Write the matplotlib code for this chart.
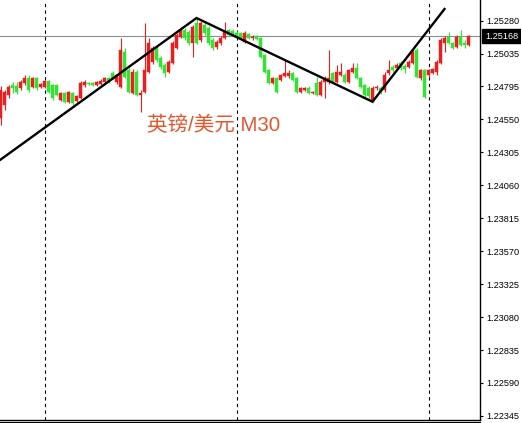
import numpy as np
import matplotlib
matplotlib.use("Agg")
import matplotlib.pyplot as plt
import matplotlib.transforms as mtrans
from matplotlib.lines import Line2D

plt.rcParams['font.family'] = ['Liberation Sans', 'Noto Sans CJK SC', 'DejaVu Sans']

# ── GBP/USD M30 candles ──────────────────────────────────────────────────────
opens = [
    1.24559, 1.24656, 1.24730, 1.24804, 1.24797, 1.24782, 1.24819, 1.24856, 1.24790, 1.24856,
    1.24790, 1.24790, 1.24834, 1.24804, 1.24804, 1.24693, 1.24745, 1.24678, 1.24745, 1.24686,
    1.24708, 1.24804, 1.24819, 1.24819, 1.24804, 1.24812, 1.24827, 1.24856, 1.24894, 1.24827,
    1.24790, 1.25050, 1.24916, 1.24745, 1.24901, 1.24730, 1.24752, 1.24901, 1.24975, 1.25087,
    1.25005, 1.24953, 1.24901, 1.24968, 1.25079, 1.25161, 1.25213, 1.25198, 1.25117, 1.25265,
    1.25139, 1.25250, 1.25228, 1.25139, 1.25087, 1.25117, 1.25154, 1.25213, 1.25206, 1.25191,
    1.25191, 1.25124, 1.25183, 1.25154, 1.25168, 1.25154, 1.25027, 1.24916, 1.24819, 1.24856,
    1.24842, 1.24871, 1.24871, 1.24894, 1.24856, 1.24752, 1.24767, 1.24782, 1.24745, 1.24819,
    1.24730, 1.24827, 1.24827, 1.24894, 1.24827, 1.24879, 1.24879, 1.24827, 1.24901, 1.24931,
    1.24856, 1.24804, 1.24782, 1.24693, 1.24782, 1.24782, 1.24767, 1.24894, 1.24938, 1.24931,
    1.24968, 1.24946, 1.24938, 1.24968, 1.25065, 1.24856, 1.24916, 1.24879, 1.24894, 1.24901,
    1.24968, 1.25117, 1.25161, 1.25117, 1.25087, 1.25161, 1.25117, 1.25102,
]
highs = [
    1.24797, 1.24767, 1.24804, 1.24827, 1.24827, 1.24842, 1.24879, 1.24879, 1.24864, 1.24864,
    1.24819, 1.24842, 1.24842, 1.24812, 1.24812, 1.24752, 1.24752, 1.24760, 1.24752, 1.24730,
    1.24834, 1.24842, 1.24827, 1.24827, 1.24834, 1.24849, 1.24864, 1.24864, 1.24908, 1.24886,
    1.25154, 1.25079, 1.24931, 1.24923, 1.24916, 1.24767, 1.25265, 1.25154, 1.25094, 1.25102,
    1.25020, 1.24968, 1.24990, 1.25131, 1.25191, 1.25235, 1.25228, 1.25213, 1.25250, 1.25302,
    1.25280, 1.25273, 1.25243, 1.25154, 1.25139, 1.25168, 1.25273, 1.25221, 1.25221, 1.25206,
    1.25198, 1.25206, 1.25191, 1.25176, 1.25176, 1.25161, 1.25035, 1.24923, 1.24864, 1.24864,
    1.24886, 1.24990, 1.24916, 1.24901, 1.24864, 1.24790, 1.24790, 1.24797, 1.24760, 1.24864,
    1.24842, 1.24871, 1.25065, 1.24901, 1.24953, 1.24968, 1.24894, 1.24923, 1.24968, 1.24968,
    1.24864, 1.24812, 1.24797, 1.24797, 1.24804, 1.24797, 1.24901, 1.24990, 1.24953, 1.24968,
    1.24983, 1.24960, 1.24990, 1.25065, 1.25079, 1.24923, 1.24923, 1.24923, 1.24931, 1.24990,
    1.25154, 1.25168, 1.25198, 1.25124, 1.25176, 1.25213, 1.25139, 1.25176,
]
lows = [
    1.24507, 1.24619, 1.24708, 1.24745, 1.24738, 1.24767, 1.24804, 1.24752, 1.24782, 1.24767,
    1.24782, 1.24782, 1.24745, 1.24693, 1.24723, 1.24686, 1.24671, 1.24671, 1.24656, 1.24678,
    1.24700, 1.24790, 1.24804, 1.24797, 1.24797, 1.24804, 1.24819, 1.24819, 1.24849, 1.24812,
    1.24782, 1.24856, 1.24745, 1.24738, 1.24723, 1.24604, 1.24745, 1.24894, 1.24960, 1.24975,
    1.24923, 1.24864, 1.24894, 1.24960, 1.25072, 1.25154, 1.25139, 1.25102, 1.25013, 1.25109,
    1.25124, 1.25176, 1.25102, 1.25065, 1.25072, 1.25102, 1.25146, 1.25168, 1.25168, 1.25154,
    1.25146, 1.25117, 1.25146, 1.25139, 1.25139, 1.25005, 1.24894, 1.24812, 1.24812, 1.24745,
    1.24834, 1.24864, 1.24856, 1.24834, 1.24745, 1.24745, 1.24760, 1.24738, 1.24738, 1.24723,
    1.24723, 1.24708, 1.24812, 1.24819, 1.24819, 1.24871, 1.24819, 1.24819, 1.24894, 1.24849,
    1.24782, 1.24715, 1.24700, 1.24678, 1.24767, 1.24738, 1.24752, 1.24879, 1.24901, 1.24916,
    1.24916, 1.24894, 1.24931, 1.24960, 1.24856, 1.24842, 1.24708, 1.24864, 1.24886, 1.24879,
    1.24960, 1.25050, 1.25109, 1.25072, 1.25079, 1.25094, 1.25079, 1.25094,
]
closes = [
    1.24767, 1.24752, 1.24790, 1.24782, 1.24752, 1.24827, 1.24856, 1.24767, 1.24856, 1.24782,
    1.24812, 1.24834, 1.24752, 1.24708, 1.24730, 1.24745, 1.24678, 1.24752, 1.24671, 1.24723,
    1.24819, 1.24827, 1.24812, 1.24804, 1.24827, 1.24834, 1.24856, 1.24827, 1.24856, 1.24879,
    1.25065, 1.24864, 1.24752, 1.24901, 1.24730, 1.24745, 1.24916, 1.25117, 1.25079, 1.24990,
    1.24938, 1.24894, 1.24975, 1.25117, 1.25176, 1.25213, 1.25154, 1.25117, 1.25235, 1.25117,
    1.25265, 1.25191, 1.25117, 1.25079, 1.25124, 1.25154, 1.25198, 1.25176, 1.25183, 1.25161,
    1.25154, 1.25191, 1.25154, 1.25161, 1.25146, 1.25013, 1.24901, 1.24819, 1.24856, 1.24752,
    1.24879, 1.24894, 1.24894, 1.24842, 1.24752, 1.24782, 1.24782, 1.24745, 1.24752, 1.24730,
    1.24827, 1.24856, 1.24856, 1.24827, 1.24901, 1.24901, 1.24827, 1.24916, 1.24931, 1.24856,
    1.24790, 1.24730, 1.24723, 1.24782, 1.24790, 1.24752, 1.24879, 1.24916, 1.24916, 1.24953,
    1.24931, 1.24923, 1.24975, 1.25050, 1.24864, 1.24916, 1.24715, 1.24916, 1.24923, 1.24975,
    1.25139, 1.25154, 1.25117, 1.25079, 1.25161, 1.25102, 1.25102, 1.25168,
]

# hand-drawn trend lines (candle index, price)
trend_x = [-0.125, 49, 93, 111]
trend_y = [1.24247, 1.25302, 1.24680, 1.25369]

day_breaks = [11, 59, 107]          # dashed period separators
last_price = 1.25168
price_ticks = [1.25280, 1.25035, 1.24795, 1.24550, 1.24305, 1.24060, 1.23815,
               1.23570, 1.23325, 1.23080, 1.22835, 1.22590, 1.22345]
title = '英镑/美元 M30'

UP = '#EE1C1C'
DOWN = '#2EE62E'

# ── Figure ───────────────────────────────────────────────────────────────────
fig = plt.figure(figsize=(5.21, 4.23), dpi=100, facecolor='white')
ax = fig.add_axes([0, 3 / 423, 480 / 521, 420 / 423])
ax.set_facecolor('white')

o = np.array(opens); h = np.array(highs); l = np.array(lows); c = np.array(closes)
x = np.arange(len(o))
cols = np.where(c >= o, UP, DOWN)

ax.vlines(x, l, h, colors=cols, linewidth=0.8, zorder=2)
body_lo = np.minimum(o, c)
body_h = np.maximum(np.abs(c - o), 0.00003)
ax.bar(x, body_h, bottom=body_lo, width=0.75, color=cols, edgecolor=cols,
       linewidth=0.3, zorder=3)

# current price line
ax.axhline(last_price, color='#8A8F93', linewidth=0.8, zorder=1)

# separators
for d in day_breaks:
    ax.axvline(d, color='black', linewidth=0.8, linestyle=(0, (3, 3)), zorder=1)

# trend lines
ax.plot(trend_x, trend_y, color='black', linewidth=1.7, zorder=4,
        solid_joinstyle='miter')

ax.text(147 / 480, 1 - 125 / 420, title, transform=ax.transAxes,
        ha='left', va='center', fontsize=14.8, color='#E4572E',
        family=['Liberation Sans', 'Noto Sans CJK SC'])

ax.set_xlim(-0.125, 119.875)
ax.set_ylim(1.22315, 1.25436)

for s in ('left', 'top'):
    ax.spines[s].set_visible(False)
for s in ('right', 'bottom'):
    ax.spines[s].set_color('black')
    ax.spines[s].set_linewidth(1.0)

ax.set_xticks([])
ax.yaxis.tick_right()
ax.set_yticks(price_ticks)
ax.set_yticklabels([f'{p:.5f}' for p in price_ticks])
ax.tick_params(axis='y', direction='out', length=2.5, width=0.8, pad=2,
               labelsize=6.6, colors='black')

# price tag on the axis
blend = mtrans.blended_transform_factory(ax.transAxes, ax.transData)
ax.text(485 / 480, last_price, f'{last_price:.5f}', transform=blend,
        ha='left', va='center', fontsize=6.6, color='white', clip_on=False,
        bbox=dict(boxstyle='square,pad=0.3', fc='black', ec='black'))

# second bottom rule like the terminal frame
fig.add_artist(Line2D([0, 480 / 521], [1 / 423, 1 / 423], color='black',
                      linewidth=0.8, transform=fig.transFigure))

fig.savefig('out.png', dpi=100, facecolor='white')
